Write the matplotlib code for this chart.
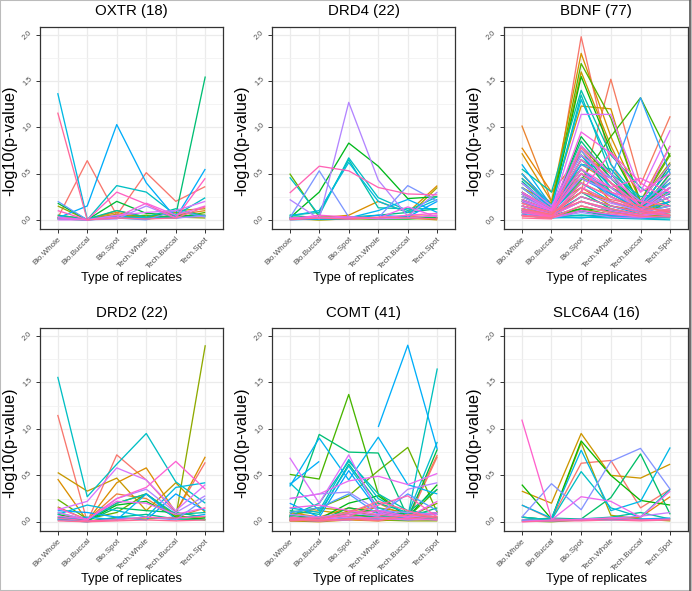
import numpy as np
import matplotlib
matplotlib.use("Agg")
import matplotlib.pyplot as plt
from matplotlib.ticker import MultipleLocator
from matplotlib.patches import Rectangle

nan = np.nan
categories = ["Bio.Whole", "Bio.Buccal", "Bio.Spot", "Tech.Whole", "Tech.Buccal", "Tech.Spot"]
y_ticks = [0.0, 0.5, 1.0, 1.5, 2.0]
y_tick_labels = ["0.0", "0.5", "1.0", "1.5", "2.0"]

oxtr = [
    [0.02, 0.64, 0.05, 0.51, 0.20, 0.36],
    [0.03, 0.01, 0.08, 0.02, 0.05, 0.10],
    [0.01, 0.00, 0.10, 0.03, 0.08, 0.05],
    [0.05, 0.01, 0.06, 0.02, 0.10, 0.12],
    [0.15, 0.00, 0.04, 0.01, 0.03, 0.02],
    [0.02, 0.00, 0.03, 0.05, 0.02, 0.08],
    [0.18, 0.00, 0.20, 0.07, 0.05, 0.04],
    [0.01, 0.00, 0.02, 0.01, 0.05, 1.55],
    [0.05, 0.01, 0.10, 0.03, 0.12, 0.04],
    [0.01, 0.00, 0.37, 0.30, 0.05, 0.24],
    [1.37, 0.01, 0.04, 0.02, 0.02, 0.05],
    [0.02, 0.15, 1.03, 0.40, 0.02, 0.55],
    [0.20, 0.00, 0.02, 0.00, 0.10, 0.03],
    [0.03, 0.00, 0.01, 0.15, 0.02, 0.04],
    [0.00, 0.00, 0.05, 0.08, 0.10, 0.20],
    [0.02, 0.00, 0.03, 0.18, 0.05, 0.15],
    [0.10, 0.00, 0.30, 0.17, 0.02, 0.45],
    [1.16, 0.00, 0.02, 0.01, 0.02, 0.14],
]

drd4 = [
    [0.01, 0.03, 0.02, 0.01, 0.05, 0.02],
    [0.02, 0.01, 0.03, 0.02, 0.03, 0.05],
    [0.01, 0.02, 0.05, 0.20, 0.08, 0.37],
    [0.03, 0.01, 0.02, 0.01, 0.02, 0.00],
    [0.01, 0.00, 0.01, 0.02, 0.04, 0.35],
    [0.02, 0.00, 0.01, 0.01, 0.02, 0.02],
    [0.50, 0.03, 0.03, 0.01, 0.01, 0.02],
    [0.02, 0.30, 0.83, 0.58, 0.23, 0.25],
    [0.03, 0.01, 0.02, 0.01, 0.01, 0.03],
    [0.05, 0.02, 0.03, 0.05, 0.08, 0.12],
    [0.05, 0.08, 0.65, 0.13, 0.12, 0.12],
    [0.46, 0.05, 0.67, 0.24, 0.10, 0.25],
    [0.04, 0.10, 0.62, 0.20, 0.08, 0.22],
    [0.02, 0.01, 0.02, 0.10, 0.22, 0.08],
    [0.00, 0.01, 0.01, 0.05, 0.03, 0.20],
    [0.02, 0.53, 0.03, 0.02, 0.37, 0.20],
    [0.22, 0.01, 1.27, 0.43, 0.04, 0.30],
    [0.01, 0.02, 0.03, 0.01, 0.02, 0.05],
    [0.02, 0.03, 0.01, 0.02, 0.14, 0.03],
    [0.01, 0.05, 0.03, 0.02, 0.05, 0.07],
    [0.29, 0.58, 0.53, 0.35, 0.28, 0.27],
    [0.00, 0.02, 0.01, 0.03, 0.02, 0.01],
]

bdnf = [
    [0.15, 0.05, 1.98, 0.60, 0.10, 0.30],
    [0.10, 0.08, 0.30, 1.52, 0.38, 1.12],
    [0.20, 0.10, 0.50, 0.35, 0.15, 0.45],
    [0.30, 0.12, 0.60, 0.40, 0.20, 0.80],
    [1.02, 0.20, 0.45, 0.30, 0.10, 0.50],
    [0.78, 0.30, 0.70, 0.50, 0.12, 0.20],
    [0.45, 0.18, 0.55, 0.20, 0.08, 0.35],
    [0.25, 0.15, 0.35, 0.15, 0.10, 0.25],
    [0.72, 0.20, 1.80, 0.90, 0.20, 0.60],
    [0.35, 0.18, 1.23, 1.20, 0.15, 0.40],
    [0.20, 0.10, 0.40, 0.25, 0.12, 0.30],
    [0.50, 0.15, 1.60, 0.80, 0.15, 0.55],
    [0.15, 0.08, 0.30, 0.20, 0.10, 0.15],
    [0.28, 0.12, 0.50, 0.30, 0.08, 0.20],
    [0.10, 0.05, 0.20, 0.10, 0.05, 0.10],
    [0.22, 0.10, 0.45, 0.35, 0.20, 0.62],
    [0.05, 0.03, 0.15, 0.08, 0.05, 0.05],
    [0.18, 0.08, 0.55, 0.28, 0.12, 0.25],
    [0.12, 0.05, 0.10, 0.05, 0.03, 0.08],
    [0.30, 0.10, 0.80, 0.45, 0.18, 0.70],
    [0.08, 0.04, 0.12, 0.06, 0.02, 0.05],
    [0.25, 0.12, 0.65, 0.40, 0.15, 0.30],
    [0.40, 0.15, 1.69, 1.10, 0.20, 0.72],
    [0.22, 0.10, 0.43, 0.90, 1.32, 0.68],
    [0.35, 0.12, 1.55, 0.75, 0.15, 0.40],
    [0.10, 0.05, 0.12, 0.10, 0.05, 0.08],
    [0.15, 0.08, 0.90, 0.50, 0.10, 0.60],
    [0.05, 0.02, 0.10, 0.03, 0.02, 0.05],
    [0.28, 0.10, 0.75, 0.35, 0.10, 0.45],
    [0.12, 0.06, 0.25, 0.15, 0.08, 0.10],
    [0.50, 0.15, 0.70, 0.30, 0.10, 0.50],
    [0.20, 0.08, 0.30, 0.12, 0.05, 0.20],
    [0.42, 0.12, 0.85, 0.45, 0.12, 0.35],
    [0.08, 0.03, 0.05, 0.04, 0.02, 0.03],
    [0.30, 0.10, 0.60, 0.55, 0.18, 0.28],
    [0.55, 0.30, 1.40, 0.70, 0.35, 0.15],
    [0.15, 0.05, 0.20, 0.10, 0.05, 0.10],
    [0.25, 0.12, 1.35, 0.50, 0.25, 0.30],
    [0.10, 0.04, 0.05, 0.03, 0.02, 0.02],
    [0.35, 0.10, 0.65, 0.40, 0.12, 0.25],
    [0.05, 0.02, 0.03, 0.02, 0.01, 0.00],
    [0.45, 0.15, 1.30, 0.60, 0.20, 0.40],
    [0.20, 0.08, 0.40, 0.20, 0.08, 0.15],
    [0.08, 0.03, 0.02, 0.05, 0.02, 0.03],
    [0.28, 0.10, 0.50, 0.25, 0.10, 0.30],
    [0.60, 0.15, 0.70, 0.35, 0.15, 0.55],
    [0.12, 0.05, 0.25, 0.15, 0.06, 0.12],
    [0.40, 0.12, 0.55, 0.30, 0.10, 0.20],
    [0.06, 0.02, 0.10, 0.05, 0.02, 0.03],
    [0.22, 0.08, 0.45, 0.28, 0.12, 0.35],
    [0.50, 0.15, 0.60, 0.45, 1.32, 0.50],
    [0.10, 0.05, 0.20, 0.12, 0.05, 0.10],
    [0.30, 0.10, 0.55, 0.25, 0.10, 0.40],
    [0.15, 0.06, 0.35, 0.20, 0.08, 0.15],
    [0.35, 0.12, 0.75, 0.40, 0.15, 0.45],
    [0.05, 0.02, 0.08, 0.03, 0.02, 0.05],
    [0.25, 0.10, 0.45, 0.30, 0.12, 0.25],
    [0.12, 0.05, 0.30, 0.18, 0.10, 0.35],
    [0.40, 0.15, 0.70, 0.45, 0.20, 0.60],
    [0.08, 0.03, 0.15, 0.08, 0.04, 0.08],
    [0.20, 0.10, 1.14, 1.14, 0.30, 0.97],
    [0.15, 0.06, 0.50, 0.35, 0.10, 0.30],
    [0.28, 0.10, 0.80, 0.50, 0.15, 0.80],
    [0.10, 0.04, 0.20, 0.10, 0.05, 0.10],
    [0.18, 0.08, 0.95, 0.72, 0.30, 0.50],
    [0.05, 0.02, 0.10, 0.06, 0.03, 0.04],
    [0.22, 0.10, 0.55, 0.35, 0.45, 0.30],
    [0.12, 0.05, 0.30, 0.73, 0.40, 0.20],
    [0.30, 0.12, 0.65, 0.40, 0.15, 0.35],
    [0.08, 0.04, 0.40, 0.25, 0.10, 0.08],
    [0.15, 0.08, 0.50, 0.30, 0.20, 0.15],
    [0.05, 0.03, 0.25, 0.15, 0.08, 0.05],
    [0.10, 0.05, 0.35, 0.20, 0.12, 0.10],
    [0.02, 0.01, 0.78, 0.40, 0.10, 0.05],
    [0.18, 0.08, 0.20, 0.12, 0.06, 0.12],
    [0.04, 0.02, 0.15, 0.08, 0.04, 0.03],
    [0.12, 0.06, 0.30, 0.22, 0.15, 0.08],
]

drd2 = [
    [1.15, 0.00, 0.72, 0.45, 0.10, 0.64],
    [0.10, 0.02, 0.30, 0.25, 0.05, 0.15],
    [0.46, 0.01, 0.42, 0.58, 0.10, 0.70],
    [0.53, 0.33, 0.47, 0.12, 0.42, 0.10],
    [0.16, 0.02, 0.20, 0.30, 0.05, 0.05],
    [0.05, 0.01, 0.04, 0.03, 0.05, 1.90],
    [0.24, 0.03, 0.10, 0.30, 0.07, 0.02],
    [0.08, 0.01, 0.18, 0.22, 0.05, 0.03],
    [0.03, 0.01, 0.15, 0.12, 0.10, 0.05],
    [0.02, 0.00, 0.05, 0.08, 0.03, 0.02],
    [0.05, 0.02, 0.20, 0.30, 0.08, 0.10],
    [1.56, 0.27, 0.62, 0.95, 0.43, 0.20],
    [0.08, 0.18, 0.12, 0.05, 0.37, 0.42],
    [0.03, 0.05, 0.02, 0.30, 0.03, 0.08],
    [0.12, 0.10, 0.05, 0.02, 0.30, 0.12],
    [0.02, 0.00, 0.03, 0.05, 0.02, 0.25],
    [0.10, 0.02, 0.25, 0.35, 0.10, 0.28],
    [0.13, 0.22, 0.58, 0.45, 0.12, 0.40],
    [0.06, 0.03, 0.22, 0.20, 0.08, 0.15],
    [0.15, 0.02, 0.25, 0.37, 0.65, 0.35],
    [0.04, 0.01, 0.02, 0.05, 0.04, 0.06],
    [0.01, 0.00, 0.01, 0.02, 0.01, 0.02],
]

comt = [
    [0.02, 0.01, 0.05, 0.08, 0.02, 0.70],
    [0.05, 0.02, 0.10, 0.20, 0.05, 0.72],
    [0.03, 0.01, 0.03, 0.05, 0.02, 0.10],
    [0.10, 0.05, 0.15, 0.10, 0.05, 0.05],
    [0.01, 0.00, 0.02, 0.01, 0.03, 0.02],
    [0.08, 0.12, 0.08, 0.04, 0.06, 0.03],
    [0.02, 0.01, 0.12, 0.15, 0.10, 0.08],
    [0.04, 0.02, 0.05, 0.03, 0.02, 0.04],
    [0.06, 0.15, 0.12, 0.06, 0.10, 0.05],
    [0.01, 0.01, 0.03, 0.02, 0.01, 0.01],
    [0.05, 0.03, 0.10, 0.12, 0.05, 0.20],
    [0.10, 0.15, 0.28, 0.55, 0.80, 0.10],
    [0.51, 0.46, 1.37, 0.30, 0.05, 0.35],
    [0.05, 0.03, 0.20, 0.28, 0.05, 0.40],
    [0.02, 0.01, 0.15, 0.10, 0.03, 0.78],
    [0.07, 0.04, 0.08, 0.05, 0.10, 0.03],
    [0.05, 0.94, 0.75, 0.74, 0.05, 0.15],
    [0.12, 0.08, 0.62, 0.20, 0.10, 0.35],
    [0.03, 0.02, 0.05, 0.03, 0.02, 0.05],
    [0.06, 0.20, 0.65, 0.30, 0.12, 0.08],
    [0.02, 0.02, 0.04, 0.05, 0.05, 1.65],
    [0.42, 0.12, 0.67, 0.25, 0.08, 0.86],
    [0.15, 0.10, 0.60, 0.15, 0.05, 0.10],
    [0.04, 0.03, 0.03, 0.02, 0.06, 0.04],
    [0.38, 0.90, 0.45, 0.91, 0.40, 0.30],
    [0.40, 0.65, nan, 1.02, 1.90, 0.78],
    [0.20, 0.05, 0.55, 0.12, 0.06, 0.10],
    [0.10, 0.15, 0.30, 0.08, 0.30, 0.12],
    [0.02, 0.01, 0.02, 0.05, 0.03, 0.02],
    [0.25, 0.30, 0.32, 0.12, 0.10, 0.08],
    [0.08, 0.05, 0.10, 0.06, 0.35, 0.42],
    [0.03, 0.02, 0.05, 0.04, 0.02, 0.03],
    [0.69, 0.20, 0.72, 0.10, 0.05, 0.08],
    [0.25, 0.30, 0.44, 0.49, 0.40, 0.52],
    [0.15, 0.18, 0.12, 0.08, 0.05, 0.22],
    [0.05, 0.02, 0.08, 0.12, 0.06, 0.10],
    [0.02, 0.01, 0.03, 0.02, 0.04, 0.02],
    [0.03, 0.05, 0.06, 0.18, 0.28, 0.05],
    [0.01, 0.02, 0.02, 0.05, 0.03, 0.06],
    [0.04, 0.03, 0.10, 0.22, 0.12, 0.03],
    [0.02, 0.01, 0.03, 0.01, 0.08, 0.05],
]

slc6a4 = [
    [0.18, 0.03, 0.63, 0.66, 0.15, 0.35],
    [0.02, 0.01, 0.02, 0.03, 0.05, 0.27],
    [0.33, 0.20, 0.95, 0.50, 0.47, 0.62],
    [0.05, 0.02, 0.85, 0.07, 0.03, 0.01],
    [0.01, 0.00, 0.02, 0.03, 0.02, 0.03],
    [0.40, 0.03, 0.87, 0.50, 0.23, 0.18],
    [0.05, 0.02, 0.03, 0.26, 0.73, 0.08],
    [0.02, 0.04, 0.03, 0.05, 0.10, 0.03],
    [0.05, 0.02, 0.54, 0.15, 0.05, 0.35],
    [0.18, 0.04, 0.77, 0.12, 0.22, 0.80],
    [0.01, 0.01, 0.02, 0.02, 0.03, 0.04],
    [0.05, 0.41, 0.13, 0.65, 0.79, 0.35],
    [0.02, 0.01, 0.03, 0.04, 0.06, 0.10],
    [0.00, 0.02, 0.27, 0.22, 0.05, 0.33],
    [1.10, 0.03, 0.02, 0.04, 0.02, 0.03],
    [0.00, 0.01, 0.01, 0.02, 0.01, 0.02],
]

panel_titles = ["OXTR (18)", "DRD4 (22)", "BDNF (77)", "DRD2 (22)", "COMT (41)", "SLC6A4 (16)"]
panel_data = [oxtr, drd4, bdnf, drd2, comt, slc6a4]
x_label = "Type of replicates"
y_label = "-log10(p-value)"


def hue_pal(n, h0=15, h1=375, c=100, l=65):
    """ggplot2-style hue palette (polar Luv -> sRGB)."""
    hues = np.linspace(h0, h1, n + 1)[:-1]
    Xn, Yn, Zn = 95.047, 100.0, 108.883
    un = 4 * Xn / (Xn + 15 * Yn + 3 * Zn)
    vn = 9 * Yn / (Xn + 15 * Yn + 3 * Zn)
    out = []
    for h in hues:
        hr = np.deg2rad(h)
        u = c * np.cos(hr)
        v = c * np.sin(hr)
        Y = Yn * ((l + 16) / 116) ** 3
        up = u / (13 * l) + un
        vp = v / (13 * l) + vn
        X = Y * 9 * up / (4 * vp)
        Z = Y * (12 - 3 * up - 20 * vp) / (4 * vp)
        X, Y2, Z = X / 100, Y / 100, Z / 100
        r = 3.2404542 * X - 1.5371385 * Y2 - 0.4985314 * Z
        g = -0.9692660 * X + 1.8760108 * Y2 + 0.0415560 * Z
        b = 0.0556434 * X - 0.2040259 * Y2 + 1.0572252 * Z
        rgb = []
        for ch in (r, g, b):
            ch = 12.92 * ch if ch <= 0.0031308 else 1.055 * ch ** (1 / 2.4) - 0.055
            rgb.append(min(max(ch, 0), 1))
        out.append(tuple(rgb))
    return out


plt.rcParams['font.family'] = ['Liberation Sans', 'DejaVu Sans']

W, H = 692, 591
fig = plt.figure(figsize=(W / 100, H / 100), dpi=100)

col_lr = [(40, 223), (272, 455), (504, 688)]
row_tb = [(27, 229), (328, 531)]
title_y = [10.5, 313]
xlabel_y = [277.5, 579]

x_pos = np.arange(1, len(categories) + 1)

for idx, (title, data) in enumerate(zip(panel_titles, panel_data)):
    r, cidx = divmod(idx, 3)
    left, right = col_lr[cidx]
    top, bottom = row_tb[r]
    ax = fig.add_axes([left / W, 1 - bottom / H, (right - left) / W, (bottom - top) / H])
    ax.set_facecolor('white')
    colors = hue_pal(len(data))
    for row, col in zip(data, colors):
        ax.plot(x_pos, row, color=col, lw=0.95, solid_capstyle='butt')
    ax.set_xlim(0.4, 6.6)
    ax.set_ylim(-0.099, 2.085)
    ax.set_xticks(x_pos)
    ax.set_xticklabels(categories, rotation=45, ha='right', rotation_mode='anchor',
                       fontsize=5.8, color='#4D4D4D')
    ax.set_yticks(y_ticks)
    ax.set_yticklabels(y_tick_labels, rotation=45, fontsize=5.3, color='#4D4D4D',
                       va='center', ha='right')
    ax.yaxis.set_minor_locator(MultipleLocator(0.25))
    ax.grid(True, which='major', color='#EBEBEB', lw=0.9, zorder=0)
    ax.grid(True, which='minor', axis='y', color='#F2F2F2', lw=0.6, zorder=0)
    ax.set_axisbelow(True)
    ax.tick_params(which='major', length=3, width=0.7, color='#333333', pad=1.5)
    ax.tick_params(which='minor', length=0)
    for sp in ax.spines.values():
        sp.set_color('#333333')
        sp.set_linewidth(0.9)
    cx = (left + right) / 2
    fig.text(cx / W, 1 - title_y[r] / H, title, fontsize=10.8, ha='center', va='center')
    fig.text(cx / W, 1 - xlabel_y[r] / H, x_label, fontsize=9.3, ha='center', va='center')
    fig.text((left - 30) / W, 1 - ((top + bottom) / 2 + 13) / H, y_label, fontsize=11.8,
             ha='center', va='center', rotation=90)

fig.patches.append(Rectangle((0, 0), 1, 1, transform=fig.transFigure, fill=False,
                             edgecolor='#BBBBBB', lw=1.5))
fig.lines.append(plt.Line2D([0.9975, 0.9975], [0, 1], transform=fig.transFigure,
                            color='#555555', lw=1.2))

fig.savefig("out.png", dpi=100, facecolor='white')
